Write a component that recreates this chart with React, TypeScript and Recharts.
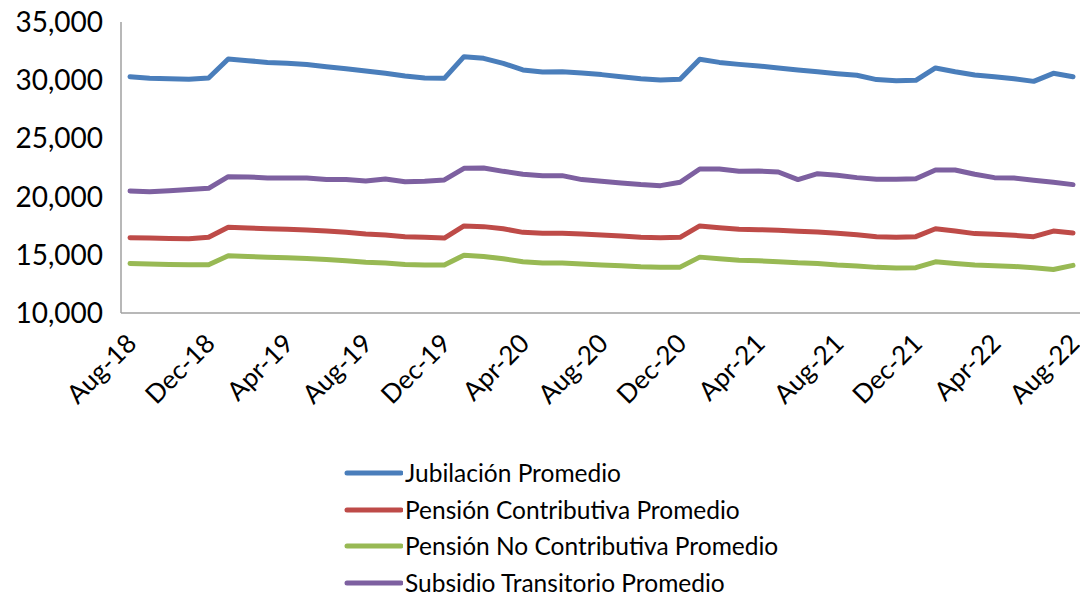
import { Legend, Line, LineChart, XAxis, YAxis } from 'recharts';

const meses = [
  'Aug-18', 'Sep-18', 'Oct-18', 'Nov-18', 'Dec-18',
  'Jan-19', 'Feb-19', 'Mar-19', 'Apr-19', 'May-19', 'Jun-19', 'Jul-19', 'Aug-19', 'Sep-19', 'Oct-19', 'Nov-19', 'Dec-19',
  'Jan-20', 'Feb-20', 'Mar-20', 'Apr-20', 'May-20', 'Jun-20', 'Jul-20', 'Aug-20', 'Sep-20', 'Oct-20', 'Nov-20', 'Dec-20',
  'Jan-21', 'Feb-21', 'Mar-21', 'Apr-21', 'May-21', 'Jun-21', 'Jul-21', 'Aug-21', 'Sep-21', 'Oct-21', 'Nov-21', 'Dec-21',
  'Jan-22', 'Feb-22', 'Mar-22', 'Apr-22', 'May-22', 'Jun-22', 'Jul-22', 'Aug-22',
];

const jubilacion = [
  30300, 30160, 30130, 30080, 30190,
  31820, 31680, 31530, 31450, 31340, 31160, 30990, 30790, 30590, 30360, 30180, 30160,
  32020, 31880, 31450, 30880, 30700, 30730, 30620, 30480, 30300, 30130, 30020, 30080,
  31800, 31530, 31360, 31220, 31050, 30880, 30730, 30560, 30420, 30050, 29960, 29990,
  31050, 30730, 30450, 30300, 30130, 29900, 30590, 30300,
];

const pensionContributiva = [
  16470, 16440, 16410, 16380, 16500,
  17360, 17300, 17240, 17190, 17130, 17040, 16930, 16790, 16700, 16560, 16500, 16440,
  17480, 17420, 17240, 16930, 16850, 16850, 16790, 16700, 16620, 16500, 16470, 16500,
  17480, 17330, 17190, 17160, 17100, 17020, 16960, 16850, 16730, 16560, 16500, 16560,
  17240, 17040, 16820, 16760, 16680, 16560, 17040, 16870,
];

const pensionNoContributiva = [
  14250, 14200, 14170, 14140, 14140,
  14910, 14860, 14800, 14740, 14690, 14600, 14490, 14370, 14290, 14170, 14120, 14120,
  14970, 14860, 14660, 14400, 14290, 14290, 14200, 14120, 14060, 13970, 13940, 13940,
  14800, 14660, 14540, 14490, 14400, 14310, 14260, 14120, 14030, 13920, 13860, 13890,
  14400, 14260, 14120, 14060, 14000, 13890, 13740, 14090,
];

const subsidioTransitorio = [
  20480, 20420, 20510, 20600, 20710,
  21710, 21690, 21600, 21600, 21600, 21460, 21460, 21340, 21510, 21280, 21310, 21430,
  22430, 22460, 22170, 21920, 21800, 21800, 21460, 21320, 21170, 21030, 20940, 21230,
  22370, 22370, 22170, 22200, 22110, 21460, 21970, 21830, 21630, 21490, 21490, 21540,
  22290, 22290, 21920, 21630, 21600, 21400, 21230, 21030,
];

const yTicks = [10000, 15000, 20000, 25000, 30000, 35000];

const series = [
  { key: 'jubilacion', name: 'Jubilación Promedio', color: '#4a7ebb' },
  { key: 'pensionContributiva', name: 'Pensión Contributiva Promedio', color: '#be4b48' },
  { key: 'pensionNoContributiva', name: 'Pensión No Contributiva Promedio', color: '#98b954' },
  { key: 'subsidioTransitorio', name: 'Subsidio Transitorio Promedio', color: '#7d60a0' },
];

const data = meses.map((mes, i) => ({
  mes,
  jubilacion: jubilacion[i],
  pensionContributiva: pensionContributiva[i],
  pensionNoContributiva: pensionNoContributiva[i],
  subsidioTransitorio: subsidioTransitorio[i],
}));

const FONT = 'Lato, "Open Sans", sans-serif';

const LeyendaVertical = () => (
  <div style={{ height: 149, paddingTop: 3, boxSizing: 'border-box', fontFamily: FONT }}>
    {series.map((s) => (
      <div key={s.key} style={{ display: 'flex', alignItems: 'center', height: 36.5 }}>
        <svg width={60} height={8} style={{ marginRight: 2, flexShrink: 0 }}>
          <line x1={4} y1={4} x2={58} y2={4} stroke={s.color} strokeWidth={5} strokeLinecap="round" />
        </svg>
        <span style={{ fontSize: 24.5, lineHeight: '26px', color: '#000', whiteSpace: 'nowrap' }}>{s.name}</span>
      </div>
    ))}
  </div>
);

export default function App() {
  return (
    <div style={{ position: 'absolute', left: 0, top: 0, width: 1080, height: 593, background: '#fff' }}>
      <LineChart
        width={1080}
        height={593}
        data={data}
        margin={{ top: 22, right: 0, bottom: 0, left: 0 }}
        style={{ fontFamily: FONT }}
      >
        <XAxis
          dataKey="mes"
          interval={3}
          height={131}
          padding={{ left: 9, right: 7 }}
          axisLine={{ stroke: '#a0a0a0', strokeWidth: 1.5 }}
          tickLine={false}
          tickSize={0}
          tickMargin={19}
          angle={-45}
          textAnchor="end"
          tick={{ fill: '#000', fontSize: 26, dx: -5 }}
        />
        <YAxis
          domain={[10000, 35000]}
          ticks={yTicks}
          width={121}
          axisLine={{ stroke: '#a0a0a0', strokeWidth: 1.5 }}
          tickLine={false}
          tickSize={0}
          tickMargin={18}
          tickFormatter={(v: number) => v.toLocaleString('en-US')}
          tick={{ fill: '#000', fontSize: 28 }}
        />
        <Legend
          layout="vertical"
          align="center"
          verticalAlign="bottom"
          content={() => <LeyendaVertical />}
          wrapperStyle={{ left: 343, top: 452, width: 520 }}
        />
        {series.map((s) => (
          <Line
            key={s.key}
            type="linear"
            dataKey={s.key}
            name={s.name}
            stroke={s.color}
            strokeWidth={5}
            strokeLinejoin="round"
            strokeLinecap="round"
            dot={false}
            activeDot={false}
            isAnimationActive={false}
          />
        ))}
      </LineChart>
    </div>
  );
}
